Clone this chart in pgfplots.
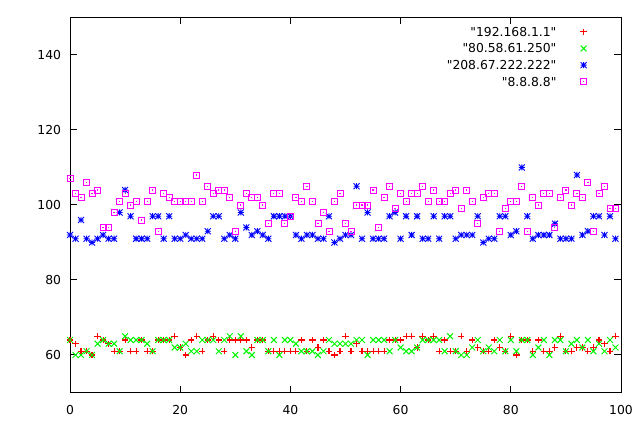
\documentclass[border=0pt]{standalone}
\usepackage{fontspec}
\setmainfont{DejaVu Sans}[Ligatures=TeXOff]
\usepackage{pgfplots}
\usepackage{pgfplotstable}
\pgfplotsset{compat=1.18}

\definecolor{gpred}{RGB}{255,0,0}
\definecolor{gpgreen}{RGB}{0,245,0}
\definecolor{gpblue}{RGB}{0,0,255}
\definecolor{gpmag}{RGB}{255,0,255}
\newcommand{\q}{\symbol{34}}

\pgfdeclareplotmark{gpstar}{%
  \pgfpathmoveto{\pgfqpoint{-\pgfplotmarksize}{0pt}}\pgfpathlineto{\pgfqpoint{\pgfplotmarksize}{0pt}}%
  \pgfpathmoveto{\pgfqpoint{0pt}{-\pgfplotmarksize}}\pgfpathlineto{\pgfqpoint{0pt}{\pgfplotmarksize}}%
  \pgfpathmoveto{\pgfqpoint{-\pgfplotmarksize}{-\pgfplotmarksize}}\pgfpathlineto{\pgfqpoint{\pgfplotmarksize}{\pgfplotmarksize}}%
  \pgfpathmoveto{\pgfqpoint{-\pgfplotmarksize}{\pgfplotmarksize}}\pgfpathlineto{\pgfqpoint{\pgfplotmarksize}{-\pgfplotmarksize}}%
  \pgfusepathqstroke}
\pgfdeclareplotmark{gpplus}{%
  \pgfpathmoveto{\pgfqpoint{-\pgfplotmarksize}{0pt}}\pgfpathlineto{\pgfqpoint{\pgfplotmarksize}{0pt}}%
  \pgfpathmoveto{\pgfqpoint{0pt}{-\pgfplotmarksize}}\pgfpathlineto{\pgfqpoint{0pt}{\pgfplotmarksize}}%
  \pgfusepathqstroke}
\pgfdeclareplotmark{gpcross}{%
  \pgfpathmoveto{\pgfqpoint{-\pgfplotmarksize}{-\pgfplotmarksize}}\pgfpathlineto{\pgfqpoint{\pgfplotmarksize}{\pgfplotmarksize}}%
  \pgfpathmoveto{\pgfqpoint{-\pgfplotmarksize}{\pgfplotmarksize}}\pgfpathlineto{\pgfqpoint{\pgfplotmarksize}{-\pgfplotmarksize}}%
  \pgfusepathqstroke}
\pgfdeclareplotmark{sqdot}{%
  \pgfpathrectangle{\pgfqpoint{-\pgfplotmarksize}{-\pgfplotmarksize}}{\pgfqpoint{2\pgfplotmarksize}{2\pgfplotmarksize}}%
  \pgfusepathqstroke
  \pgfpathrectangle{\pgfqpoint{-0.6pt}{-0.6pt}}{\pgfqpoint{1.2pt}{1.2pt}}%
  \pgfusepathqfill}

\pgfplotstableread{
x r g b p
0 64 64 92 107
1 63 60 91 103
2 61 60 96 102
3 61 61 91 106
4 60 60 90 103
5 65 63 91 104
6 64 64 92 94
7 63 63 91 94
8 61 63 91 98
9 61 61 98 101
10 64 65 104 103
11 61 64 97 100
12 61 64 91 101
13 64 64 91 96
14 61 63 91 101
15 61 61 97 104
16 64 64 97 93
17 64 64 91 103
18 64 64 97 102
19 65 62 91 101
20 62 62 91 101
21 60 63 92 101
22 64 61 91 101
23 65 61 91 108
24 61 64 91 101
25 64 64 93 105
26 65 64 97 103
27 64 61 97 104
28 61 64 91 104
29 64 65 92 102
30 64 60 91 93
31 64 65 98 100
32 64 61 94 103
33 62 60 92 102
34 64 64 93 102
35 64 64 92 100
36 61 61 91 95
37 61 64 97 103
38 61 60 97 103
39 61 64 97 95
40 61 64 97 97
41 61 63 92 102
42 64 61 91 101
43 61 61 92 105
44 64 61 92 101
45 62 60 91 95
46 64 61 91 98
47 61 64 97 93
48 60 63 90 101
49 61 63 91 103
50 65 63 92 95
51 61 63 92 93
52 63 64 105 100
53 61 64 91 100
54 61 60 98 100
55 61 64 91 104
56 61 64 91 94
57 61 64 91 102
58 64 61 97 105
59 64 64 98 99
60 64 62 91 103
61 65 61 97 101
62 65 61 92 103
63 62 62 97 103
64 65 64 91 105
65 64 64 91 101
66 65 64 97 104
67 61 64 91 101
68 64 61 97 101
69 61 65 97 103
70 61 61 91 104
71 65 60 92 99
72 61 60 92 104
73 64 62 92 101
74 62 64 97 95
75 61 61 90 102
76 61 62 91 103
77 64 61 91 103
78 62 64 97 93
79 61 61 97 99
80 65 64 92 101
81 60 61 93 101
82 64 64 110 105
83 64 64 97 93
84 61 60 91 102
85 64 62 92 100
86 61 64 92 103
87 61 60 92 103
88 62 64 95 94
89 65 64 91 102
90 61 61 91 104
91 61 63 91 100
92 62 64 108 103
93 62 62 92 102
94 61 64 93 106
95 62 61 97 93
96 64 63 97 103
97 63 61 92 105
98 61 64 97 99
99 65 62 91 99
}\pingdata

\begin{document}
\begin{tikzpicture}
\begin{axis}[
  at={(0,0)}, anchor=south west,
  scale only axis, width=551bp, height=375bp,
  xmin=0, xmax=100, ymin=50, ymax=150,
  xtick={0,20,...,100}, ytick={60,80,...,140},
  tick align=inside, major tick length=7bp,
  axis line style={line width=1bp},
  every tick/.style={black, line width=1bp},
  tick label style={font=\fontsize{12.4}{14}\selectfont},
  /pgf/number format/assume math mode=true,
  yticklabel style={xshift=-5.5bp},
  xticklabel style={yshift=-9bp},
  clip=false,
  mark size=3bp,
  legend cell align=right,
  legend plot pos=right,
  legend image code/.code={\draw[#1] plot coordinates {(0bp,0bp)};},
  legend style={draw=none, fill=none, at={(0.938,0.974)}, anchor=north east,
    inner sep=0pt, outer sep=0pt, row sep=7.7bp, column sep=24bp,
    font=\fontsize{12.4}{14}\selectfont,
    nodes={inner sep=0pt, text height=9bp, text depth=0pt}},
]
\addplot[gpred, only marks, mark=gpplus, mark size=3.2bp, mark options={solid, line width=1.1bp}] table[x=x, y=r] {\pingdata};
\addlegendentry{\q192.168.1.1\q}
\addplot[gpgreen, only marks, mark=gpcross, mark size=2.9bp, mark options={solid, line width=1bp}] table[x=x, y=g] {\pingdata};
\addlegendentry{\q80.58.61.250\q}
\addplot[gpblue, only marks, mark=gpstar, mark size=3bp, mark options={solid, line width=0.9bp}] table[x=x, y=b] {\pingdata};
\addlegendentry{\q208.67.222.222\q}
\addplot[gpmag, only marks, mark=sqdot, mark size=3bp, mark options={solid, line width=0.9bp}] table[x=x, y=p] {\pingdata};
\addlegendentry{\q8.8.8.8\q}
\end{axis}
\pgfresetboundingbox
\path (-70bp,-34.5bp) rectangle (570bp,392.5bp);
\end{tikzpicture}
\end{document}
